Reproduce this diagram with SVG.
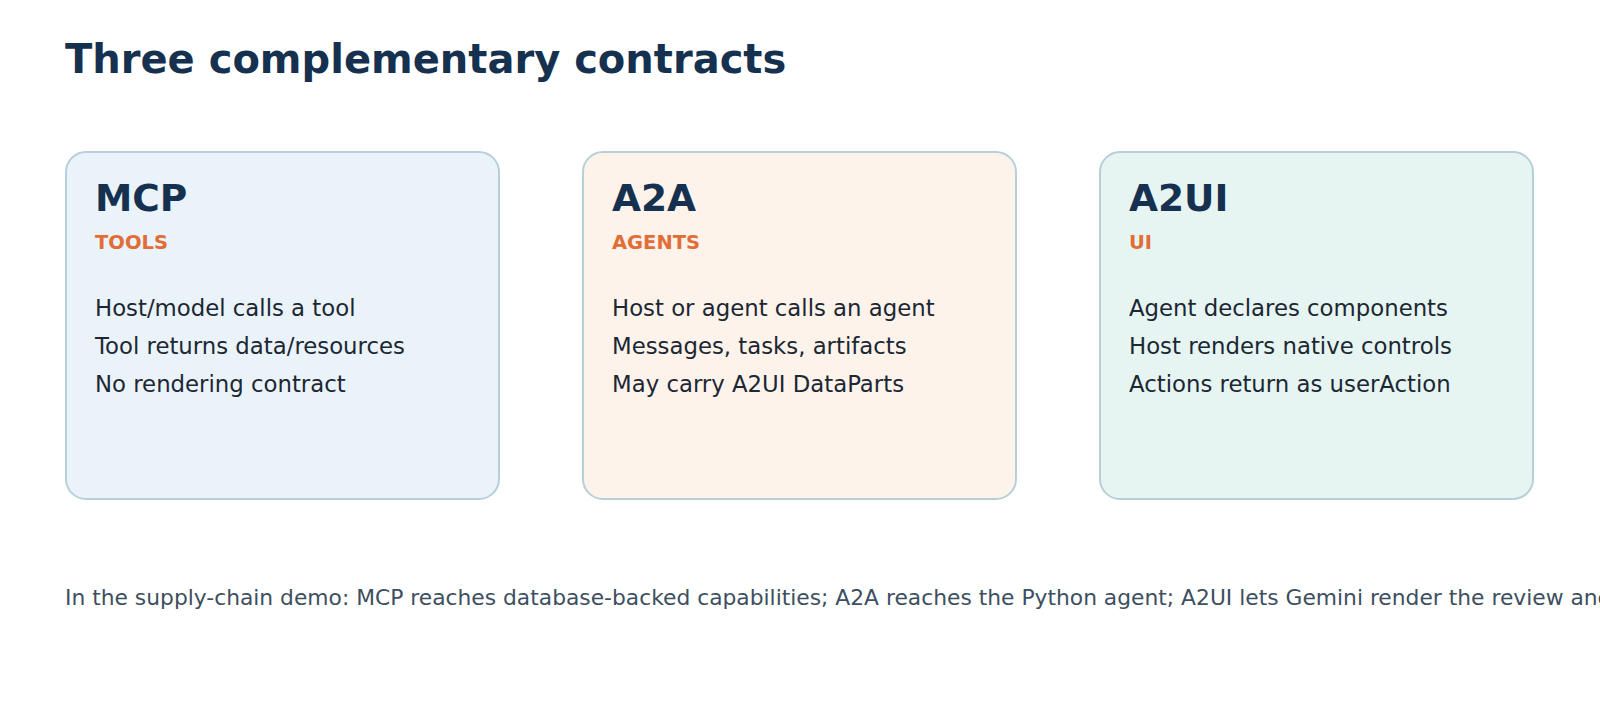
<svg xmlns="http://www.w3.org/2000/svg" width="1600" height="720" viewBox="0 0 1600 720">
<style>
text{font-family:"DejaVu Sans",sans-serif}
.card{stroke:#b7cfd9;stroke-width:2}
.h{font-size:37.5px;font-weight:bold;fill:#163150}
.s{font-size:19.5px;font-weight:bold;fill:#e26d36}
.b{font-size:22.8px;fill:#1c2733}
</style>
<rect width="1600" height="720" fill="#fff"/>
<text x="65" y="73" font-size="40" font-weight="bold" fill="#163150">Three complementary contracts</text>
<g id="mcp">
<rect class="card" x="66" y="152" width="433" height="347" rx="20" fill="#eaf3f9"/>
<text class="h" x="95" y="211">MCP</text>
<text class="s" x="95" y="249">TOOLS</text>
<text class="b" x="95" y="316">Host/model calls a tool</text>
<text class="b" x="95" y="354">Tool returns data/resources</text>
<text class="b" x="95" y="392">No rendering contract</text>
</g>
<g id="a2a">
<rect class="card" x="583" y="152" width="433" height="347" rx="20" fill="#fdf3eb"/>
<text class="h" x="612" y="211">A2A</text>
<text class="s" x="612" y="249">AGENTS</text>
<text class="b" x="612" y="316">Host or agent calls an agent</text>
<text class="b" x="612" y="354">Messages, tasks, artifacts</text>
<text class="b" x="612" y="392">May carry A2UI DataParts</text>
</g>
<g id="a2ui">
<rect class="card" x="1100" y="152" width="433" height="347" rx="20" fill="#e6f5f2"/>
<text class="h" x="1129" y="211">A2UI</text>
<text class="s" x="1129" y="249">UI</text>
<text class="b" x="1129" y="316">Agent declares components</text>
<text class="b" x="1129" y="354">Host renders native controls</text>
<text class="b" x="1129" y="392">Actions return as userAction</text>
</g>
<g id="connectors"/>
<text x="65" y="605" font-size="21.8" fill="#3d4f60">In the supply-chain demo: MCP reaches database-backed capabilities; A2A reaches the Python agent; A2UI lets Gemini render the review and approval UI.</text>
</svg>
